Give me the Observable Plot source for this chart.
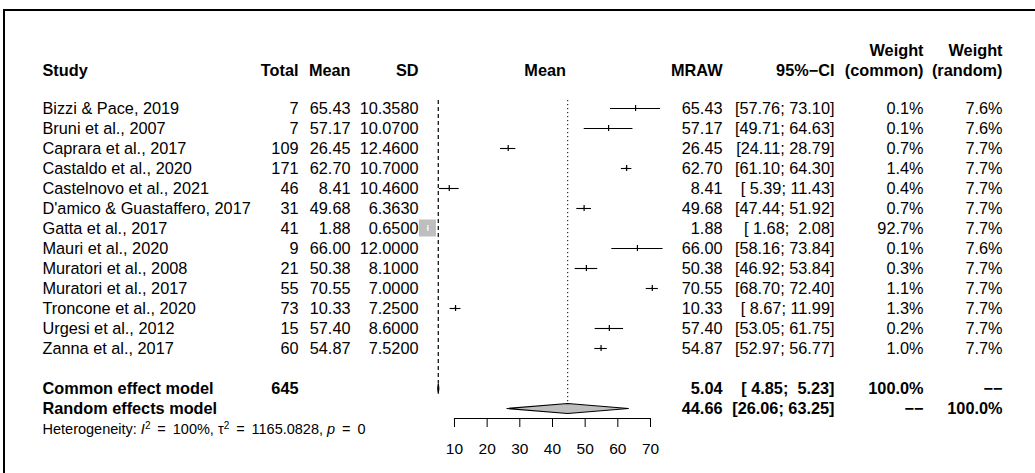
<!DOCTYPE html>
<html><head><meta charset="utf-8">
<script src="https://cdn.jsdelivr.net/npm/d3@7"></script>
<script src="https://cdn.jsdelivr.net/npm/@observablehq/plot@0.6"></script>
<style>
body{margin:0;background:#fff;overflow:hidden;}
#wrap{position:relative;width:1035px;height:473px;}
#border{position:absolute;left:3px;top:9px;width:2000px;height:2000px;border:2.5px solid #000;pointer-events:none;}
svg text{white-space:pre;}
</style></head><body><div id="wrap"><div id="border"></div></div>
<script>
// ---- data ----
const studies = ["Bizzi & Pace, 2019","Bruni et al., 2007","Caprara et al., 2017","Castaldo et al., 2020","Castelnovo et al., 2021","D'amico & Guastaffero, 2017","Gatta et al., 2017","Mauri et al., 2020","Muratori et al., 2008","Muratori et al., 2017","Troncone et al., 2020","Urgesi et al., 2012","Zanna et al., 2017"];
const totals = [7,7,109,171,46,31,41,9,21,55,73,15,60];
const means = [65.43,57.17,26.45,62.70,8.41,49.68,1.88,66.00,50.38,70.55,10.33,57.40,54.87];
const sds = [10.3580,10.0700,12.4600,10.7000,10.4600,6.3630,0.6500,12.0000,8.1000,7.0000,7.2500,8.6000,7.5200];
const lowers = [57.76,49.71,24.11,61.10,5.39,47.44,1.68,58.16,46.92,68.70,8.67,53.05,52.97];
const uppers = [73.10,64.63,28.79,64.30,11.43,51.92,2.08,73.84,53.84,72.40,11.99,61.75,56.77];
const weightCommon = [0.1,0.1,0.7,1.4,0.4,0.7,92.7,0.1,0.3,1.1,1.3,0.2,1.0];
const weightRandom = [7.6,7.6,7.7,7.7,7.7,7.7,7.7,7.6,7.7,7.7,7.7,7.7,7.7];
const modelNames = ["Common effect model","Random effects model"];
const modelEst = [5.04,44.66];
const modelLower = [4.85,26.06];
const modelUpper = [5.23,63.25];
const modelTotal = ["645",""];
const modelWCommon = ["100.0%","\u2212\u2212"];
const modelWRandom = ["\u2212\u2212","100.0%"];
const axisTicks = [10,20,30,40,50,60,70];
const hetText = "Heterogeneity: I2 = 100%, τ2 = 1165.0828, p = 0";

// ---- layout ----
const F = "'Liberation Sans', Arial, Helvetica, sans-serif";
const FS = 16.3;
const xRange = [421.3, 650], xDom = [0, 70];
const kx = (xRange[1]-xRange[0])/(xDom[1]-xDom[0]);
const rowPx = 20;
const maxSquare = 17;
const maxW = d3.max(weightCommon);

const pad = (v, n) => v.toFixed(2).padStart(n, " ");
const ci = (l, u) => "[" + pad(l,5) + "; " + pad(u,5) + "]";

const rows = studies.map((s, i) => {
  const size = maxSquare * Math.sqrt(weightCommon[i]/maxW);
  const inside = (uppers[i]-lowers[i])*kx < size;
  return {
    row: i + 1, study: s, total: String(totals[i]), mean: means[i].toFixed(2),
    sd: sds[i].toFixed(4), est: means[i], lower: lowers[i], upper: uppers[i],
    mraw: means[i].toFixed(2), ci: ci(lowers[i], uppers[i]),
    wc: weightCommon[i].toFixed(1) + "%", wr: weightRandom[i].toFixed(1) + "%",
    hx: size/2/kx, hy: size/2/rowPx, col: inside ? "white" : "black"
  };
});
const models = modelNames.map((m, i) => ({
  row: 15 + i, study: m, total: modelTotal[i], mean: "", sd: "",
  mraw: modelEst[i].toFixed(2), ci: ci(modelLower[i], modelUpper[i]),
  wc: modelWCommon[i], wr: modelWRandom[i]
}));
const diamondPts = models.flatMap((m, i) => [
  {z: i, x: modelLower[i], y: m.row},
  {z: i, x: modelEst[i], y: m.row - 0.25},
  {z: i, x: modelUpper[i], y: m.row},
  {z: i, x: modelEst[i], y: m.row + 0.25},
  {z: i, x: modelLower[i], y: m.row}
]);

const headRow = -0.9, headRow2 = -1.9;
const cols = [
  {key: "study", dx: 42, anchor: "start", head: "Study"},
  {key: "total", dx: 298, anchor: "end", head: "Total"},
  {key: "mean", dx: 350, anchor: "end", head: "Mean"},
  {key: "sd", dx: 418, anchor: "end", head: "SD"},
  {key: "mraw", dx: 722, anchor: "end", head: "MRAW"},
  {key: "ci", dx: 834, anchor: "end", head: "95%\u2212CI"},
  {key: "wc", dx: 923, anchor: "end", head: "(common)", head2: "Weight"},
  {key: "wr", dx: 1002, anchor: "end", head: "(random)", head2: "Weight"}
];

const textMarks = cols.flatMap(c => [
  Plot.text(rows, {y: "row", text: c.key, frameAnchor: "left", dx: c.dx, textAnchor: c.anchor, fontSize: FS}),
  Plot.text(models, {y: "row", text: c.key, frameAnchor: "left", dx: c.dx, textAnchor: c.anchor, fontSize: FS, fontWeight: "bold"}),
  Plot.text([c.head], {y: headRow, text: d => d, frameAnchor: "left", dx: c.dx, textAnchor: c.anchor, fontSize: FS, fontWeight: "bold"}),
  ...(c.head2 ? [Plot.text([c.head2], {y: headRow2, text: d => d, frameAnchor: "left", dx: c.dx, textAnchor: c.anchor, fontSize: FS, fontWeight: "bold"})] : [])
]);

const chart = Plot.plot({
  width: 1035, height: 473,
  marginLeft: 0, marginRight: 0, marginTop: 0, marginBottom: 0,
  x: {domain: xDom, range: xRange, axis: null},
  y: {domain: [0, 20], range: [88, 88 + 20*rowPx], axis: null},
  style: {fontFamily: F, fontSize: FS + "px", background: "white", color: "black"},
  marks: [
    // reference lines
    Plot.ruleX([modelEst[0]], {x: d => d, y1: 0.6, y2: 15 - 0.25, stroke: "black", strokeDasharray: "4,3", strokeWidth: 1.2}),
    Plot.ruleX([modelEst[1]], {x: d => d, y1: 0.6, y2: 16 - 0.25, stroke: "black", strokeDasharray: "1.2,2.8"}),
    // squares
    Plot.rect(rows, {x1: d => d.est - d.hx, x2: d => d.est + d.hx, y1: d => d.row - d.hy, y2: d => d.row + d.hy, fill: "#bebebe"}),
    // CIs
    Plot.ruleY(rows, {y: "row", x1: "lower", x2: "upper", stroke: "col", strokeWidth: 1.1}),
    Plot.ruleX(rows, {x: "est", y1: d => d.row - 0.15, y2: d => d.row + 0.15, stroke: "col", strokeWidth: 1.2}),
    // diamonds
    Plot.line(diamondPts, {x: "x", y: "y", z: "z", fill: "#bebebe", stroke: "black", strokeWidth: 1.1}),
    // axis
    Plot.ruleY([16.5], {x1: d3.min(axisTicks), x2: d3.max(axisTicks), stroke: "black"}),
    Plot.ruleX(axisTicks, {x: d => d, y1: 16.5, y2: 16.95, stroke: "black"}),
    Plot.text(axisTicks, {x: d => d, y: 18.05, text: d => String(d), fontSize: 15.5}),
    // header over plot
    Plot.text(["Mean"], {x: (d3.min(lowers) + d3.max(uppers)) / 2, y: headRow, text: d => d, fontSize: FS, fontWeight: "bold"}),
    ...textMarks,
    // heterogeneity
    Plot.text([hetText], {y: 17.05, text: d => d, frameAnchor: "left", dx: 42, textAnchor: "start", fontSize: 14.5})
  ]
});
document.getElementById("wrap").prepend(chart);

// rich formatting of the heterogeneity statistics line
for (const t of chart.querySelectorAll("text")) {
  if (t.textContent === hetText) {
    t.innerHTML = 'Heterogeneity: <tspan font-style="italic">I</tspan><tspan dy="-5" font-size="10">2</tspan><tspan dy="5"> \u2009=\u2009 100%, \u03c4</tspan><tspan dy="-5" font-size="10">2</tspan><tspan dy="5"> \u2009=\u2009 1165.0828, </tspan><tspan font-style="italic">p</tspan> \u2009=\u2009 0';
  }
}
</script></body></html>
